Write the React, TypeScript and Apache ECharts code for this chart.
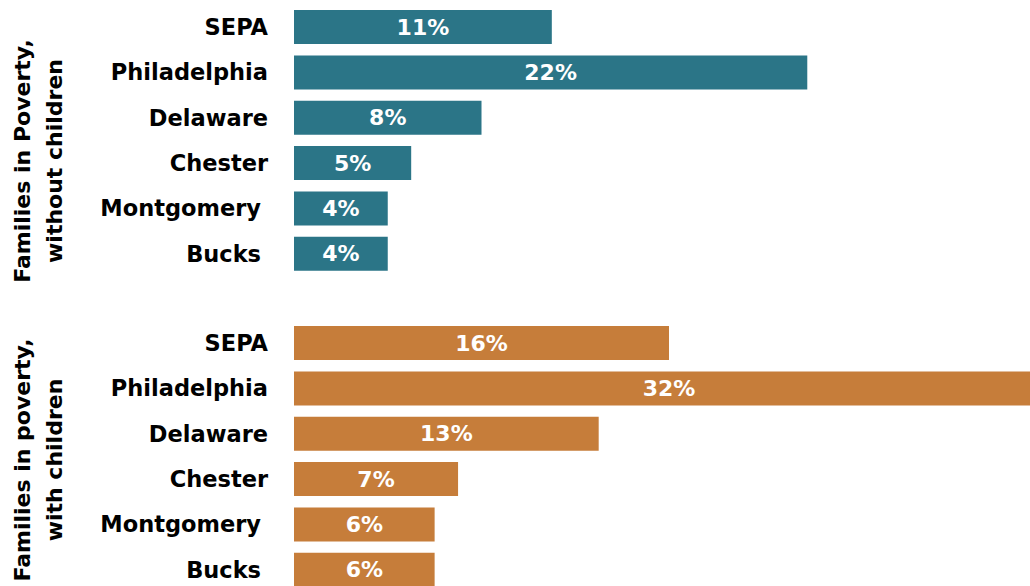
import React, { useEffect, useRef } from "react";
import * as echarts from "echarts";

const categories = ["SEPA", "Philadelphia", "Delaware", "Chester", "Montgomery", "Bucks"];
const withoutChildren = [11, 21.9, 8, 5, 4, 4];
const withChildren = [16, 32, 13, 7, 6, 6];
const paddedNames = ["Montgomery", "Bucks"];
const titleWithout = "Families in Poverty,\nwithout children";
const titleWith = "Families in poverty,\nwith children";

const FONT = "'DejaVu Sans', sans-serif";
const TEAL = "#2B7587";
const ORANGE = "#C67D3A";

export default function App() {
  const ref = useRef<HTMLDivElement>(null);
  useEffect(() => {
    if (!ref.current) return;
    document.body.style.overflow = "hidden";
    const chart = echarts.init(ref.current, null, { renderer: "svg" });
    const catAxis = (gridIndex: number) => ({
      type: "category",
      gridIndex,
      data: categories,
      inverse: true,
      axisLine: { show: false },
      axisTick: { show: false },
      splitLine: { show: false },
      axisLabel: {
        margin: 26,
        fontSize: 22.5,
        fontWeight: "bold",
        fontFamily: FONT,
        color: "#000",
        formatter: (v: string) => (paddedNames.includes(v) ? `{p|${v}}` : v),
        rich: {
          p: { padding: [0, 7, 0, 0], fontSize: 22.5, fontWeight: "bold", fontFamily: FONT, color: "#000" },
        },
      },
    });
    const valAxis = (gridIndex: number) => ({
      type: "value",
      gridIndex,
      min: 0,
      max: 32,
      show: false,
      splitLine: { show: false },
    });
    const label = {
      show: true,
      position: "inside",
      color: "#fff",
      fontSize: 22,
      fontWeight: "bold",
      fontFamily: FONT,
      formatter: (p: any) => Math.round(p.value) + "%",
    };
    chart.setOption({
      animation: false,
      grid: [
        { left: 294, width: 750, top: 4.4, height: 272 },
        { left: 294, width: 750, top: 320.4, height: 272 },
      ],
      xAxis: [valAxis(0), valAxis(1)],
      yAxis: [catAxis(0), catAxis(1)],
      series: [
        {
          type: "bar",
          xAxisIndex: 0,
          yAxisIndex: 0,
          data: withoutChildren,
          barWidth: 34,
          itemStyle: { color: TEAL },
          label,
        },
        {
          type: "bar",
          xAxisIndex: 1,
          yAxisIndex: 1,
          data: withChildren,
          barWidth: 34,
          itemStyle: { color: ORANGE },
          label,
        },
      ],
      graphic: [
        {
          type: "text",
          x: 38,
          y: 161,
          rotation: Math.PI / 2,
          style: {
            text: titleWithout,
            fontSize: 22,
            fontWeight: "bold",
            fontFamily: FONT,
            fill: "#000",
            align: "center",
            verticalAlign: "middle",
            lineHeight: 32,
          },
        },
        {
          type: "text",
          x: 38,
          y: 460,
          rotation: Math.PI / 2,
          style: {
            text: titleWith,
            fontSize: 22,
            fontWeight: "bold",
            fontFamily: FONT,
            fill: "#000",
            align: "center",
            verticalAlign: "middle",
            lineHeight: 32,
          },
        },
      ],
    });
    return () => chart.dispose();
  }, []);
  return (
    <div
      ref={ref}
      style={{ position: "fixed", left: 0, top: 0, width: 1060, height: 600, background: "#fff" }}
    />
  );
}
